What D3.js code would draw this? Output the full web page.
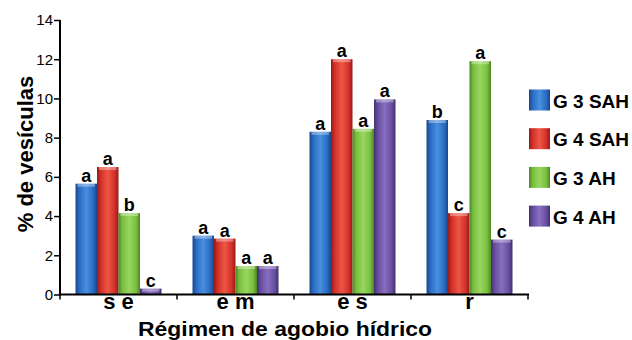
<!DOCTYPE html>
<html>
<head>
<meta charset="utf-8">
<script src="https://cdn.jsdelivr.net/npm/d3@7"></script>
<style>
    body { margin: 0; background: #fff; }
    #chart { width: 632px; height: 340px; }
    text { font-family: "Liberation Sans", Arial, sans-serif; fill: #000; }
</style>
</head>
<body>
<div id="chart"></div>
<script>
//Datos
const categorias = ['s e', 'e m', 'e s', 'r'];
const series = ['G 3 SAH', 'G 4 SAH', 'G 3 AH', 'G 4 AH'];
const valores = [
    [5.65, 6.5, 4.15, 0.3],
    [3.0, 2.85, 1.45, 1.45],
    [8.3, 12.0, 8.45, 9.95],
    [8.9, 4.15, 11.9, 2.8]
];
const letras = [
    ['a', 'a', 'b', 'c'],
    ['a', 'a', 'a', 'a'],
    ['a', 'a', 'a', 'a'],
    ['b', 'c', 'a', 'c']
];
const ticksY = [0, 2, 4, 6, 8, 10, 12, 14];

//Colores fijos
const COLORES = [
    { base: '#2a6cc2', dark: '#1a468a', light: '#4a8fe0' },
    { base: '#d4302a', dark: '#951b16', light: '#ec5745' },
    { base: '#7abf40', dark: '#4c8624', light: '#98d660' },
    { base: '#684ea0', dark: '#42306c', light: '#896fbf' }
];

let svg = d3.select('#chart')
    .append('svg')
        .attr('width', 632)
        .attr('height', 340);

//Degradados de las barras
let defs = svg.append('defs');
COLORES.forEach(function(c, i) {
    let g = defs.append('linearGradient')
        .attr('id', 'grad' + i)
        .attr('x1', '0%').attr('x2', '100%')
        .attr('y1', '0%').attr('y2', '0%');
    g.append('stop').attr('offset', '0%').attr('stop-color', c.dark);
    g.append('stop').attr('offset', '18%').attr('stop-color', c.base);
    g.append('stop').attr('offset', '50%').attr('stop-color', c.light);
    g.append('stop').attr('offset', '82%').attr('stop-color', c.base);
    g.append('stop').attr('offset', '100%').attr('stop-color', c.dark);
});

let x0 = d3.scaleBand()
    .domain(categorias)
    .range([60, 528])
    .paddingInner(0.265)
    .paddingOuter(0.1325);

let x1 = d3.scaleBand()
    .domain(series)
    .range([0, x0.bandwidth()]);

let y = d3.scaleLinear()
    .domain([0, 14])
    .range([294.5, 20]);

//Barras
let grupos = svg.append('g')
    .selectAll('g')
    .data(categorias)
    .enter()
    .append('g')
    .attr('transform', function(d) { return 'translate(' + x0(d) + ',0)'; });

grupos.each(function(cat, ci) {
    let g = d3.select(this);
    series.forEach(function(s, si) {
        let v = valores[ci][si];
        g.append('rect')
            .attr('x', x1(s))
            .attr('y', y(v))
            .attr('width', x1.bandwidth())
            .attr('height', y(0) - y(v))
            .attr('fill', 'url(#grad' + si + ')');
        //brillo superior
        g.append('rect')
            .attr('x', x1(s) + 2)
            .attr('y', y(v))
            .attr('width', x1.bandwidth() - 4)
            .attr('height', Math.min(3, y(0) - y(v)))
            .attr('fill', '#fff')
            .attr('opacity', 0.35);
        g.append('text')
            .attr('x', x1(s) + x1.bandwidth() / 2)
            .attr('y', y(v) - 2)
            .attr('text-anchor', 'middle')
            .style('font-size', '18px')
            .style('font-weight', '700')
            .text(letras[ci][si]);
    });
});

//Eje Y
let yAxis = function(g) {
    g.call(d3.axisLeft(y).tickValues(ticksY).tickSize(6).tickPadding(1));
    g.call(function(g) { g.select('.domain').attr('stroke-width', 2).attr('d', 'M0,' + (y(0) + 1) + 'V' + y(14)); });
    g.call(function(g) { g.selectAll('.tick line').attr('stroke-width', 1.5); });
    g.call(function(g) { g.selectAll('.tick text').style('font-size', '15px').style('font-family', '"Liberation Sans", Arial, sans-serif'); });
};

svg.append('g')
    .attr('transform', 'translate(60,0)')
    .call(yAxis);

//Eje X
let step = x0.step();
let limites = categorias.map(function(d) { return x0(d) - step * x0.paddingInner() / 2; });
limites.push(x0(categorias[categorias.length - 1]) + x0.bandwidth() + step * x0.paddingInner() / 2);

let ejeX = svg.append('g');
ejeX.append('line')
    .attr('x1', 59).attr('x2', limites[limites.length - 1] + 1)
    .attr('y1', y(0)).attr('y2', y(0))
    .attr('stroke', '#000').attr('stroke-width', 2);
ejeX.selectAll('.tickx')
    .data(limites)
    .enter()
    .append('line')
    .attr('x1', function(d) { return d; })
    .attr('x2', function(d) { return d; })
    .attr('y1', y(0))
    .attr('y2', y(0) + 5)
    .attr('stroke', '#000')
    .attr('stroke-width', 1.5);
ejeX.selectAll('.catx')
    .data(categorias)
    .enter()
    .append('text')
    .attr('x', function(d) { return x0(d) + x0.bandwidth() / 2; })
    .attr('y', 309)
    .attr('text-anchor', 'middle')
    .style('font-size', '22px')
    .style('font-weight', '700')
    .text(function(d) { return d; });

//Títulos
svg.append('text')
    .attr('x', 285)
    .attr('y', 336)
    .attr('text-anchor', 'middle')
    .attr('textLength', 294)
    .attr('lengthAdjust', 'spacingAndGlyphs')
    .style('font-size', '21px')
    .style('font-weight', '700')
    .text('Régimen de agobio hídrico');

svg.append('text')
    .attr('transform', 'translate(33,154) rotate(-90)')
    .attr('text-anchor', 'middle')
    .style('font-size', '22px')
    .style('font-weight', '700')
    .text('% de vesículas');

//Leyenda
let leyenda = svg.append('g')
    .selectAll('g')
    .data(series)
    .enter()
    .append('g')
    .attr('transform', function(d, i) { return 'translate(529,' + (89.5 + i * 38.7) + ')'; });

leyenda.append('rect')
    .attr('width', 21)
    .attr('height', 21)
    .attr('fill', function(d, i) { return 'url(#grad' + i + ')'; });

leyenda.append('text')
    .attr('x', 24)
    .attr('y', 18)
    .style('font-size', '19px')
    .style('font-weight', '700')
    .text(function(d) { return d; });
</script>
</body>
</html>
